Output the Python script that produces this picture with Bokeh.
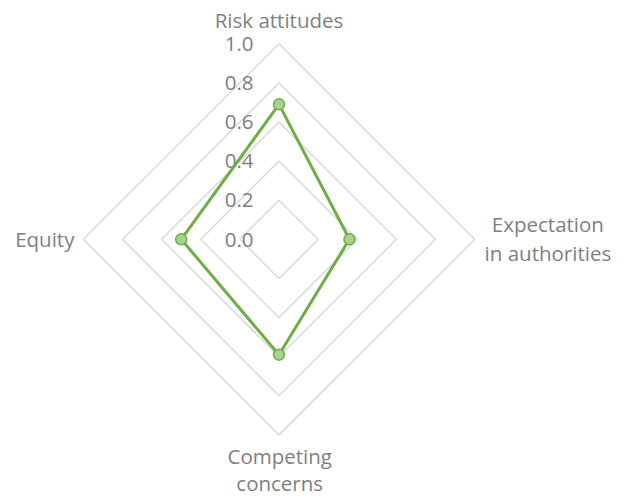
import math
from bokeh.plotting import figure
from bokeh.models import Range1d, ColumnDataSource
from bokeh.core.properties import value
from bokeh.embed import file_html
from bokeh.resources import INLINE

# Radar chart data
categories = ["Risk attitudes", "Expectation\nin authorities", "Competing\nconcerns", "Equity"]
scores = [0.69, 0.36, 0.59, 0.50]
ring_levels = [0.2, 0.4, 0.6, 0.8, 1.0]
tick_values = [0.0, 0.2, 0.4, 0.6, 0.8, 1.0]
tick_labels = ["0.0", "0.2", "0.4", "0.6", "0.8", "1.0"]

W, H = 631, 499
CX, CY, R = 278.5, 238.8, 195.6   # centre and outer radius, in screen pixels
BASE_SHIFT = -7.0                 # lifts the alphabetic baseline to where it is wanted

FONT = value("Open Sans")
FONT_SIZE = "20.5px"
TEXT_COLOR = "#7f7f7f"
GRID_COLOR = "#d9d9d9"
LINE_COLOR = "#70ad47"
FILL_COLOR = "#a9d18e"

n = len(categories)
angles = [math.pi / 2 - i * 2 * math.pi / n for i in range(n)]

p = figure(width=W, height=H, output_backend="svg", toolbar_location=None,
           x_range=Range1d(-CX / R, (W - CX) / R),
           y_range=Range1d(-(H - CY) / R, CY / R),
           min_border=0, outline_line_color=None)
p.axis.visible = False
p.grid.visible = False
p.background_fill_color = "white"
p.border_fill_color = "white"

# concentric rings
for lv in ring_levels:
    xs = [lv * math.cos(a) for a in angles] + [lv * math.cos(angles[0])]
    ys = [lv * math.sin(a) for a in angles] + [lv * math.sin(angles[0])]
    p.line(xs, ys, line_color=GRID_COLOR, line_width=1.5)

# value scale labels along the top spoke
p.text(x=[0] * len(tick_values), y=tick_values, text=tick_labels,
       x_offset=-25.5, y_offset=7.2 + BASE_SHIFT, text_align="right",
       text_baseline="alphabetic", text_font=FONT, text_font_size=FONT_SIZE,
       text_color=TEXT_COLOR)

# series
sx = [v * math.cos(a) for v, a in zip(scores, angles)]
sy = [v * math.sin(a) for v, a in zip(scores, angles)]
p.line(sx + [sx[0]], sy + [sy[0]], line_color=LINE_COLOR, line_width=3,
       line_join="round")
p.scatter(sx, sy, size=11, fill_color=FILL_COLOR, line_color=LINE_COLOR,
          line_width=1.5)

# category labels around the outer ring
label_style = [
    # (x_offset, first baseline offset, line gap, align)
    (0.0, -17.2, 28.5, "center"),
    (73.3, -8.1, 28.5, "center"),
    (0.7, 28.0, 27.5, "center"),
    (-9.0, 6.2, 28.5, "right"),
]
lx, ly, lt, lxo, lyo, la = [], [], [], [], [], []
for cat, a, (xo, yo, gap, al) in zip(categories, angles, label_style):
    for k, line in enumerate(cat.split("\n")):
        lx.append(math.cos(a))
        ly.append(math.sin(a))
        lt.append(line)
        lxo.append(xo)
        lyo.append(yo + k * gap + BASE_SHIFT)
        la.append(al)
src = ColumnDataSource(dict(x=lx, y=ly, text=lt, xo=lxo, yo=lyo, align=la))
p.text(x="x", y="y", text="text", x_offset="xo", y_offset="yo",
       text_align="align", text_baseline="alphabetic", source=src,
       text_font=FONT, text_font_size=FONT_SIZE, text_color=TEXT_COLOR)

open("out.html", "w").write(file_html(p, INLINE))
